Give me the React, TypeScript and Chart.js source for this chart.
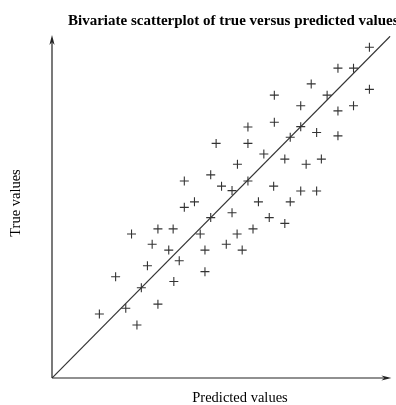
import React, { useEffect, useRef } from "react";
import { Chart, registerables } from "chart.js";

Chart.register(...registerables);

// Predicted (x) and true (y) values for each observation
const predicted = [
  9.38, 8.45, 8.91, 7.66, 6.57, 8.13, 9.38, 7.35, 8.45, 8.91,
  5.79, 6.57, 7.35, 7.82, 8.45, 7.04, 4.85, 5.79, 6.26, 6.88,
  7.51, 7.96, 5.48, 3.91, 4.69, 5.01, 5.32, 5.79, 6.55, 7.35,
  7.82, 4.21, 3.91, 6.10, 7.04, 4.69, 5.32, 6.42, 6.88, 2.35,
  3.13, 3.58, 4.38, 5.47, 5.94, 2.96, 3.45, 4.52, 5.15, 5.62,
  3.76, 2.82, 4.52, 1.88, 3.60, 2.64, 3.13, 2.18, 1.40, 2.51,
];
const trueValues = [
  9.67, 9.06, 9.06, 8.60, 8.27, 8.27, 8.44, 7.96, 7.81, 7.96,
  7.34, 7.48, 7.35, 7.18, 7.08, 7.04, 6.86, 6.86, 6.55, 6.40,
  6.25, 6.40, 6.25, 5.76, 5.94, 5.61, 5.48, 5.76, 5.61, 5.47,
  5.47, 5.15, 4.99, 5.15, 5.15, 4.69, 4.83, 4.69, 4.52, 4.21,
  4.36, 4.36, 4.21, 4.21, 4.36, 3.91, 3.74, 3.74, 3.91, 3.74,
  3.43, 3.28, 3.11, 2.96, 2.82, 2.64, 2.16, 2.04, 1.87, 1.55,
];
// Line of perfect agreement (y = x)
const identityLine = [0, 10];
const axisMax = 10;

const titleText = "Bivariate scatterplot of true versus predicted values";
const xLabel = "Predicted values";
const yLabel = "True values";

const INK = "#333";

function arrowHead(ctx: CanvasRenderingContext2D, x: number, y: number, dx: number, dy: number) {
  // dx, dy: unit direction of the arrow
  const len = 10;
  const half = 2.6;
  const bx = x - dx * len;
  const by = y - dy * len;
  const px = -dy;
  const py = dx;
  ctx.beginPath();
  ctx.moveTo(x, y);
  ctx.lineTo(bx + px * half, by + py * half);
  ctx.lineTo(x - dx * len * 0.7, y - dy * len * 0.7);
  ctx.lineTo(bx - px * half, by - py * half);
  ctx.closePath();
  ctx.fill();
}

const decorations = {
  id: "decorations",
  afterDraw(chart: any) {
    const ctx: CanvasRenderingContext2D = chart.ctx;
    const xs = chart.scales.x;
    const ys = chart.scales.y;
    const x0 = xs.getPixelForValue(0);
    const y0 = ys.getPixelForValue(0);
    const xEnd = xs.getPixelForValue(axisMax) + 1;
    const yEnd = ys.getPixelForValue(axisMax) - 1;
    ctx.save();
    ctx.strokeStyle = "#222";
    ctx.fillStyle = "#222";
    ctx.lineWidth = 1.2;
    ctx.beginPath();
    ctx.moveTo(x0, y0);
    ctx.lineTo(xEnd - 4, y0);
    ctx.moveTo(x0, y0);
    ctx.lineTo(x0, yEnd + 4);
    ctx.stroke();
    arrowHead(ctx, xEnd, y0, 1, 0);
    arrowHead(ctx, x0, yEnd, 0, -1);

    ctx.fillStyle = "#000";
    ctx.font = "bold 15px 'Liberation Serif'";
    ctx.textAlign = "left";
    ctx.textBaseline = "alphabetic";
    ctx.fillText(titleText, 68, 25);

    ctx.font = "14.5px 'Liberation Serif'";
    ctx.textAlign = "center";
    ctx.textBaseline = "middle";
    ctx.fillText(xLabel, 240, 398);

    ctx.translate(16, 203);
    ctx.rotate(-Math.PI / 2);
    ctx.fillText(yLabel, 0, 0);
    ctx.restore();
  },
};

export default function App() {
  const canvasRef = useRef<HTMLCanvasElement | null>(null);

  useEffect(() => {
    document.body.style.margin = "0";
    const canvas = canvasRef.current;
    if (!canvas) return;
    const points = predicted.map((p, i) => ({ x: p, y: trueValues[i] }));
    const chart = new Chart(canvas, {
      type: "scatter",
      data: {
        datasets: [
          {
            data: points,
            pointStyle: "cross",
            pointRadius: 4.5,
            pointBorderWidth: 1.1,
            borderColor: INK,
            backgroundColor: INK,
            showLine: false,
          },
          {
            type: "line",
            data: identityLine.map((v) => ({ x: v, y: v })),
            borderColor: INK,
            borderWidth: 1.2,
            pointRadius: 0,
            fill: false,
          },
        ],
      },
      options: {
        animation: false,
        responsive: false,
        devicePixelRatio: 1,
        layout: { padding: { left: 52, right: 2, top: 36, bottom: 27 } },
        plugins: {
          legend: { display: false },
          tooltip: { enabled: false },
          title: { display: false },
        },
        scales: {
          x: { type: "linear", min: 0, max: axisMax, display: false },
          y: { type: "linear", min: 0, max: axisMax, display: false },
        },
      },
      plugins: [decorations],
    });
    return () => chart.destroy();
  }, []);

  return <canvas ref={canvasRef} width={396} height={405} style={{ display: "block" }} />;
}
